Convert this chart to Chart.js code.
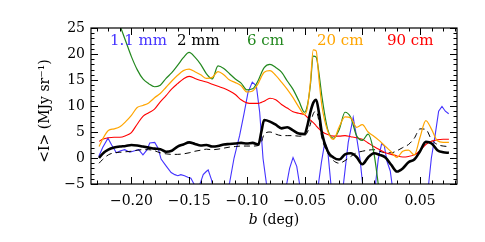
<!DOCTYPE html>
<html>
<head>
<meta charset="utf-8">
<script src="https://cdn.jsdelivr.net/npm/chart.js@4.4.1/dist/chart.umd.min.js"></script>
<style>
  html, body { margin: 0; padding: 0; background: #fff; }
</style>
</head>
<body>
<canvas id="myChart" width="485" height="242"></canvas>
<script>
// latitude grid shared by the smooth profiles (deg)
const bGrid = [-0.228, -0.225, -0.220, -0.215, -0.210, -0.205, -0.200, -0.195, -0.190, -0.185,
  -0.180, -0.175, -0.170, -0.165, -0.160, -0.155, -0.150, -0.145, -0.140, -0.135,
  -0.130, -0.125, -0.120, -0.115, -0.110, -0.105, -0.100, -0.095, -0.090, -0.0875,
  -0.085, -0.080, -0.075, -0.070, -0.065, -0.060, -0.055, -0.050, -0.0475, -0.045,
  -0.0425, -0.040, -0.0375, -0.035, -0.030, -0.025, -0.020, -0.015, -0.010, -0.005,
  0.000, 0.005, 0.010, 0.015, 0.020, 0.025, 0.030, 0.035, 0.040, 0.045,
  0.050, 0.055, 0.060, 0.065, 0.070, 0.075];

const i90cm = [3.2, 3.6, 3.9, 4.0, 4.0, 4.3, 4.9, 6.5, 8.0, 8.7,
  9.4, 10.8, 12.0, 13.3, 14.3, 15.2, 15.7, 15.3, 14.9, 14.6,
  14.2, 13.8, 13.4, 12.9, 12.2, 11.2, 10.6, 10.5, 10.5, 10.7,
  10.9, 11.5, 11.2, 10.3, 9.6, 8.9, 8.6, 8.3, 7.8, 7.3,
  6.8, 6.2, 5.6, 5.1, 4.5, 4.2, 4.2, 4.3, 4.1, 3.9,
  3.6, 2.9, 2.2, 1.6, 1.0, 0.7, 0.4, 0.2, 0.3, 0.6,
  1.4, 2.6, 3.2, 3.5, 3.6, 3.6];

const i20cm = [2.2, 3.6, 5.3, 5.6, 6.0, 7.0, 8.2, 9.7, 10.1, 10.6,
  11.6, 12.4, 13.6, 14.8, 15.9, 16.8, 17.1, 16.6, 16.0, 15.3,
  15.5, 16.6, 16.0, 15.0, 14.5, 13.9, 12.7, 12.9, 14.4, 15.6,
  16.5, 16.8, 15.9, 14.6, 13.2, 11.6, 9.8, 8.4, 9.8, 14.5,
  20.8, 20.6, 15.0, 10.0, 5.2, 3.6, 6.0, 7.9, 7.7, 5.9,
  6.4, 5.0, 4.2, 3.3, 2.2, 1.2, 0.1, 1.3, 1.5, 0.6,
  4.0, 7.2, 5.5, 3.3, 3.0, 3.0];

const i6cm = [33, 32, 30, 28, 25.5, 22.5, 19.5, 17.0, 15.2, 14.3,
  13.7, 14.0, 15.3, 16.4, 17.8, 19.3, 20.3, 19.4, 18.0, 16.2,
  15.2, 17.7, 17.2, 16.2, 15.2, 14.4, 13.1, 13.3, 15.0, 16.3,
  17.4, 18.0, 17.4, 16.5, 14.8, 13.2, 11.0, 8.8, 10.2, 14.0,
  19.6, 19.4, 16.2, 11.8, 5.5, 3.8, 5.5, 8.8, 7.8, 4.3,
  3.4, 4.6, 1.0, -7, -14, null, null, null, null, null,
  null, null, null, null, null, null];

const i2mm = [0.0, 0.8, 1.6, 2.0, 2.2, 2.3, 2.5, 2.4, 2.2, 2.0,
  1.8, 1.7, 1.2, 1.4, 2.2, 2.6, 3.0, 2.7, 2.4, 2.5,
  2.2, 2.3, 2.6, 2.7, 2.8, 2.9, 2.8, 2.9, 2.6, 5.0,
  7.3, 7.0, 6.4, 5.7, 5.9, 5.3, 4.7, 4.6, 6.3, 8.8,
  10.6, 11.2, 8.6, 4.8, 1.3, 0.1, -0.3, 0.7, 0.9, 0.2,
  -1.2, 0.1, 0.9, 0.6, 0.1, -1.3, -2.6, -2.0, -0.8, -0.3,
  1.3, 3.1, 2.8, 1.5, 1.1, 1.0];

const i2mmDashed = [-1.0, -0.3, 0.6, 1.0, 1.1, 1.2, 1.3, 1.5, 1.6, 1.6,
  1.4, 1.0, 0.8, 0.7, 0.7, 0.8, 1.0, 1.3, 1.5, 1.7,
  1.6, 1.7, 1.9, 2.1, 2.2, 2.3, 2.3, 2.3, 2.4, 3.0,
  4.6, 5.0, 4.6, 4.3, 4.3, 4.3, 4.2, 4.3, 5.0, 6.5,
  8.5, 9.0, 7.0, 3.8, 1.0, -0.5, -1.0, -0.5, 0.3, 1.0,
  1.3, 1.5, 1.6, 1.3, 1.0, 1.0, 1.4, 2.0, 2.6, 3.8,
  5.6, 5.5, 3.5, 2.6, 2.3, 2.2];

// 1.1 mm profile has its own sampling
const bBlue = [-0.2283, -0.2249, -0.2203, -0.2171, -0.2130, -0.2093, -0.2058, -0.2015, -0.1971, -0.1937,
  -0.1900, -0.1867, -0.1841, -0.1798, -0.1769, -0.1743, -0.1700, -0.1656, -0.1624, -0.1598,
  -0.1572, -0.1540, -0.1511, -0.1485, -0.1453, -0.1424, -0.1398, -0.1378, -0.1352, -0.1335,
  -0.1306, -0.1280, -0.1180, -0.1149, -0.1111, -0.1063, -0.1025, -0.0990, -0.0953, -0.0918,
  -0.0889, -0.0860, -0.0832, -0.0810, -0.0680, -0.0655, -0.0630, -0.0600, -0.0568, -0.0540,
  -0.0520, -0.0400, -0.0383, -0.0354, -0.0325, -0.0300, -0.0270, -0.0250, -0.0180, -0.0166,
  -0.0122, -0.0079, -0.0053, -0.0020, 0.0005, 0.0020, 0.0100, 0.0112, 0.0138, 0.0167,
  0.0190, 0.0213, 0.0242, 0.0260, 0.0280, 0.0550, 0.0572, 0.0598, 0.0630, 0.0661,
  0.0690, 0.0719, 0.0748];
const i11mm = [0.3, 2.0, 3.8, 2.5, 1.0, 1.4, 1.6, 1.1, 1.4, 1.6,
  0.6, 1.5, 2.9, 3.0, 1.9, -0.2, -1.5, -2.8, -3.2, -3.4,
  -3.2, -3.4, -3.7, -3.9, -5.2, -6.0, -4.5, -3.2, -2.6, -2.3,
  -4.2, -7, -7, -4.7, 0.0, 4.3, 8.5, 12.6, 14.6, 13.9,
  8.8, -0.1, -4.7, -7, -7, -5.0, -2.0, 0.1, -1.6, -5.5,
  -7, -7, -5.5, -0.8, 3.0, 1.5, -5.5, -7, -7, -5.5,
  3.0, 7.8, 4.5, -0.2, -5.5, -7, -7, -5.5, -0.2, 2.7,
  2.4, -0.6, -2.5, -5.5, -7, -7, -5.5, 0.0, 4.3, 9.0,
  9.9, 9.0, 8.5];

const xTicks = [-0.20, -0.15, -0.10, -0.05, 0.00, 0.05];
const yTicks = [-5, 0, 5, 10, 15, 20, 25];

const legendNames = ['1.1 mm', '2 mm', '6 cm', '20 cm', '90 cm'];
const legendColors = ['#4433ff', '#000000', '#22881e', '#ffa500', '#ff0000'];

const FONT = 'DejaVu Serif';
const pts = (xs, ys) => xs.map((b, i) => ({ x: b, y: ys[i] }));

const fmtX = (v) => (v < -1e-9 ? '\u2212' : '') + Math.abs(v).toFixed(2);
const fmtY = (v) => (v < 0 ? '\u2212' : '') + Math.abs(v);

// frame with inward ticks on all four sides, legend words and axis titles
const framePlugin = {
  id: 'frame',
  afterDatasetsDraw(chart) {
    const { ctx, chartArea: a, scales: { x, y } } = chart;
    ctx.save();
    ctx.strokeStyle = '#000';
    ctx.lineWidth = 1.2;
    ctx.strokeRect(a.left, a.top, a.right - a.left, a.bottom - a.top);
    ctx.lineWidth = 1;
    ctx.beginPath();
    for (let k = -23; k <= 8; k++) {
      const px = Math.round(x.getPixelForValue(k / 100)) + 0.5;
      const len = k % 5 === 0 ? 7 : 3.5;
      ctx.moveTo(px, a.bottom); ctx.lineTo(px, a.bottom - len);
      ctx.moveTo(px, a.top); ctx.lineTo(px, a.top + len);
    }
    for (let v = -5; v <= 25; v++) {
      const py = Math.round(y.getPixelForValue(v)) + 0.5;
      const len = v % 5 === 0 ? 7 : 3.5;
      ctx.moveTo(a.left, py); ctx.lineTo(a.left + len, py);
      ctx.moveTo(a.right, py); ctx.lineTo(a.right - len, py);
    }
    ctx.stroke();

    ctx.font = '15px "' + FONT + '"';
    ctx.textBaseline = 'middle';
    ctx.textAlign = 'left';
    const offs = [19, 86, 156, 226, 296];
    legendNames.forEach((name, i) => {
      ctx.fillStyle = legendColors[i];
      ctx.fillText(name, a.left + offs[i], a.top + 13);
    });

    // x title with italic b
    ctx.fillStyle = '#000';
    const cx = (a.left + a.right) / 2;
    const ty = a.bottom + 36;
    ctx.font = 'italic 14px "' + FONT + '"';
    const wb = ctx.measureText('b').width;
    ctx.font = '14px "' + FONT + '"';
    const wr = ctx.measureText(' (deg)').width;
    const x0 = cx - (wb + wr) / 2;
    ctx.font = 'italic 14px "' + FONT + '"';
    ctx.fillText('b', x0, ty);
    ctx.font = '14px "' + FONT + '"';
    ctx.fillText(' (deg)', x0 + wb, ty);

    // y title
    ctx.translate(45, (a.top + a.bottom) / 2 + 5);
    ctx.rotate(-Math.PI / 2);
    ctx.textAlign = 'center';
    ctx.fillText('<I> (MJy sr\u207B\u00B9)', 0, 0);
    ctx.restore();
  }
};

const smooth = { cubicInterpolationMode: 'monotone', pointRadius: 0 };

new Chart(document.getElementById('myChart').getContext('2d'), {
  type: 'line',
  data: {
    datasets: [
      { label: '2 mm', data: pts(bGrid, i2mm), borderColor: '#000', borderWidth: 2.6, ...smooth },
      { label: '20 cm', data: pts(bGrid, i20cm), borderColor: '#ffa500', borderWidth: 1.2, ...smooth },
      { label: '6 cm', data: pts(bGrid, i6cm), borderColor: '#22881e', borderWidth: 1.2, ...smooth },
      { label: '90 cm', data: pts(bGrid, i90cm), borderColor: '#ff0000', borderWidth: 1.1, ...smooth },
      { label: '2 mm dashed', data: pts(bGrid, i2mmDashed), borderColor: '#000', borderWidth: 1, borderDash: [6, 4], ...smooth },
      { label: '1.1 mm', data: pts(bBlue, i11mm), borderColor: '#4433ff', borderWidth: 1.1, tension: 0, pointRadius: 0 }
    ]
  },
  options: {
    responsive: false,
    animation: false,
    devicePixelRatio: 1,
    layout: { padding: { left: 0, right: 28, top: 28, bottom: 0 } },
    plugins: { legend: { display: false }, tooltip: { enabled: false } },
    scales: {
      x: {
        type: 'linear',
        min: -0.235,
        max: 0.082,
        grid: { display: false, drawTicks: false },
        border: { display: false },
        afterBuildTicks: (s) => { s.ticks = xTicks.map((v) => ({ value: v })); },
        afterFit: (s) => { s.height = 58; },
        ticks: { padding: 9, color: '#000', maxRotation: 0, autoSkip: false, font: { family: FONT, size: 14 }, callback: fmtX }
      },
      y: {
        min: -5,
        max: 25,
        grid: { display: false, drawTicks: false },
        border: { display: false },
        afterBuildTicks: (s) => { s.ticks = yTicks.map((v) => ({ value: v })); },
        afterFit: (s) => { s.width = 91; },
        ticks: { padding: 6, color: '#000', font: { family: FONT, size: 14 }, callback: fmtY }
      }
    }
  },
  plugins: [framePlugin]
});
</script>
</body>
</html>
